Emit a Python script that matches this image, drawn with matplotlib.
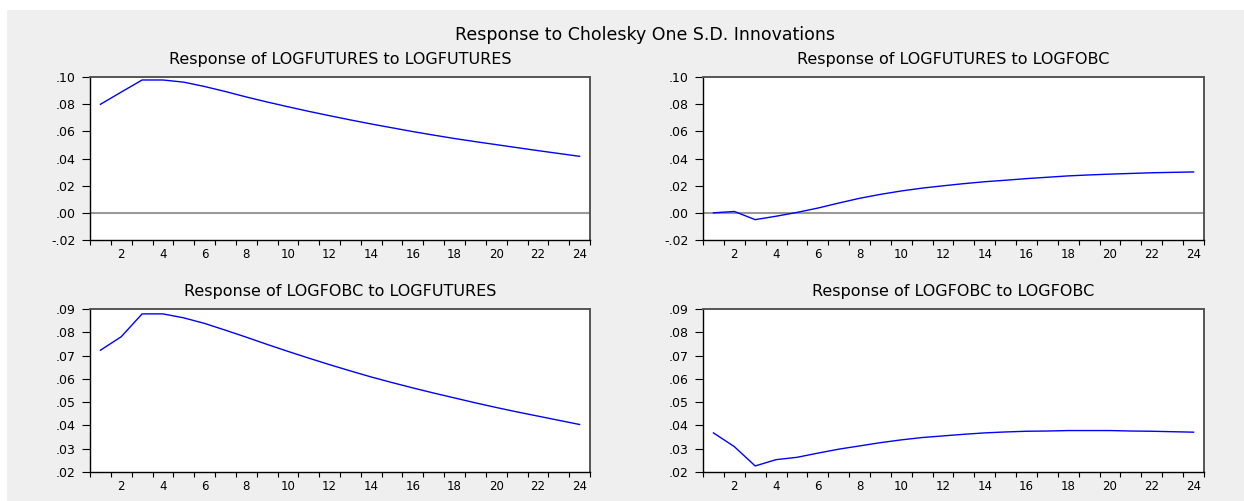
import numpy as np
import matplotlib.pyplot as plt
from matplotlib.ticker import FixedLocator, FuncFormatter
from matplotlib.patches import Rectangle

plt.rcParams['font.family'] = ['DejaVu Sans']

# periods 1..24
periods = list(range(1, 25))

fut_to_fut = [0.0799, 0.0889, 0.0978, 0.0978, 0.0962, 0.0930, 0.0893, 0.0853,
              0.0816, 0.0781, 0.0747, 0.0715, 0.0684, 0.0654, 0.0626, 0.0598,
              0.0572, 0.0547, 0.0524, 0.0502, 0.0480, 0.0458, 0.0437, 0.0416]
fut_to_fobc = [0.0000, 0.0010, -0.0050, -0.0025, 0.0003, 0.0035, 0.0072, 0.0107,
               0.0136, 0.0161, 0.0182, 0.0199, 0.0215, 0.0229, 0.0240, 0.0252,
               0.0262, 0.0272, 0.0279, 0.0285, 0.0290, 0.0295, 0.0298, 0.0301]
fobc_to_fut = [0.0723, 0.0781, 0.0879, 0.0879, 0.0862, 0.0838, 0.0809, 0.0779,
               0.0748, 0.0718, 0.0689, 0.0661, 0.0634, 0.0608, 0.0584, 0.0561,
               0.0539, 0.0518, 0.0497, 0.0477, 0.0458, 0.0440, 0.0422, 0.0404]
fobc_to_fobc = [0.0368, 0.0309, 0.0226, 0.0253, 0.0263, 0.0281, 0.0298, 0.0312,
                0.0326, 0.0338, 0.0348, 0.0355, 0.0362, 0.0368, 0.0372, 0.0375,
                0.0376, 0.0378, 0.0378, 0.0378, 0.0376, 0.0375, 0.0373, 0.0371]

titles = ['Response of LOGFUTURES to LOGFUTURES',
          'Response of LOGFUTURES to LOGFOBC',
          'Response of LOGFOBC to LOGFUTURES',
          'Response of LOGFOBC to LOGFOBC']
series = [fut_to_fut, fut_to_fobc, fobc_to_fut, fobc_to_fobc]
yticks_top = [-0.02, 0.00, 0.02, 0.04, 0.06, 0.08, 0.10]
yticks_bot = [0.02, 0.03, 0.04, 0.05, 0.06, 0.07, 0.08, 0.09]

W, H = 1244, 501
fig = plt.figure(figsize=(W / 100, H / 100), dpi=100, facecolor='white')
fig.patches.append(Rectangle((7 / W, 0), 1 - 7 / W, 1 - 10 / H,
                             transform=fig.transFigure, facecolor='#EFEFEF',
                             edgecolor='none', zorder=-10))

# axes boxes in pixels: left, right, top, bottom
boxes = [(90, 590, 77, 240), (703, 1204, 77, 240),
         (90, 590, 309, 472), (703, 1204, 309, 472)]


def fmt(v, pos):
    s = f'{v:.2f}'
    return s.replace('0.', '.', 1)


for i, (l, r, t, b) in enumerate(boxes):
    ax = fig.add_axes([l / W, 1 - b / H, (r - l) / W, (b - t) / H])
    ax.set_facecolor('white')
    ax.plot(periods, series[i], color='#0000FF', linewidth=1.0, zorder=3)
    if i < 2:
        ax.axhline(0, color='#999999', linewidth=1.5, zorder=2)
        ax.set_ylim(-0.02, 0.10)
        ax.set_yticks(yticks_top)
    else:
        ax.set_ylim(0.02, 0.09)
        ax.set_yticks(yticks_bot)
    ax.yaxis.set_major_formatter(FuncFormatter(fmt))
    ax.set_xlim(0.5, 24.5)
    ax.set_xticks(list(range(2, 25, 2)))
    ax.xaxis.set_minor_locator(FixedLocator(np.arange(0.5, 25, 1.0)))
    ax.tick_params(axis='x', which='major', length=0, pad=6, labelsize=8.5)
    ax.tick_params(axis='x', which='minor', length=3.5, width=0.8, direction='out')
    ax.tick_params(axis='y', which='major', length=5.5, width=0.8, direction='out',
                   labelsize=9, pad=5)
    for side in ['left', 'bottom']:
        ax.spines[side].set_color('black')
        ax.spines[side].set_linewidth(1.0)
    for side in ['top', 'right']:
        ax.spines[side].set_color('#555555')
        ax.spines[side].set_linewidth(1.4)
    ax.set_title(titles[i], fontsize=11.5, pad=9.5)

fig.text(645 / W, 1 - 35 / H, 'Response to Cholesky One S.D. Innovations',
         ha='center', va='center', fontsize=12.5)

plt.savefig('out.png', dpi=100, facecolor='white')
